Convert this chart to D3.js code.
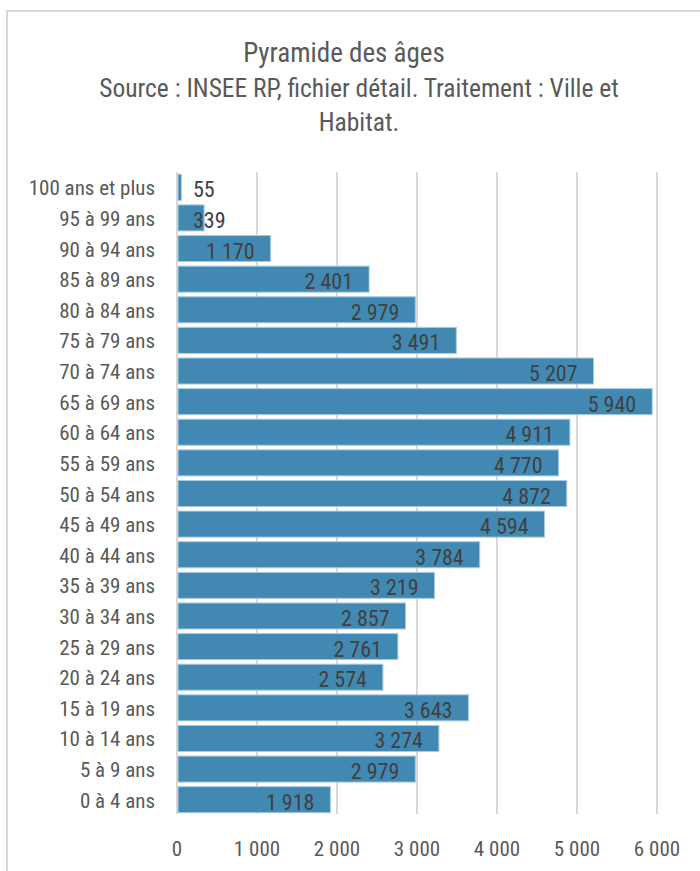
<!DOCTYPE html>
<html>
<head>
<meta charset="utf-8">
<script src="https://cdn.jsdelivr.net/npm/d3@7"></script>
<style>
  body { margin: 0; background: #fff; }
  svg text { font-family: "Liberation Sans Narrow", "Roboto Condensed", "Arial Narrow", "Liberation Sans", sans-serif; }
</style>
</head>
<body>
<svg></svg>
<script>
var categories = ['100 ans et plus', '95 à 99 ans', '90 à 94 ans', '85 à 89 ans', '80 à 84 ans',
  '75 à 79 ans', '70 à 74 ans', '65 à 69 ans', '60 à 64 ans', '55 à 59 ans', '50 à 54 ans',
  '45 à 49 ans', '40 à 44 ans', '35 à 39 ans', '30 à 34 ans', '25 à 29 ans', '20 à 24 ans',
  '15 à 19 ans', '10 à 14 ans', '5 à 9 ans', '0 à 4 ans'];
var values = [55, 339, 1170, 2401, 2979, 3491, 5207, 5940, 4911, 4770, 4872, 4594, 3784,
  3219, 2857, 2761, 2574, 3643, 3274, 2979, 1918];
var ticks = [0, 1000, 2000, 3000, 4000, 5000, 6000];

var width = 700;
var height = 871;
var fmt = d => d3.format(',')(d).replace(/,/g, ' ');

var svg = d3.select('svg')
  .attr('width', width)
  .attr('height', height);

// chart frame
svg.append('rect')
  .attr('x', 7).attr('y', 11)
  .attr('width', 720).attr('height', 900)
  .attr('fill', 'none')
  .attr('stroke', '#d9d9d9')
  .attr('stroke-width', 2);

svg.append('text')
  .attr('x', 344).attr('y', 62)
  .attr('text-anchor', 'middle')
  .attr('fill', '#595959')
  .style('font-size', '27px')
  .text('Pyramide des âges');

svg.append('text')
  .attr('x', 359).attr('y', 97)
  .attr('text-anchor', 'middle')
  .attr('fill', '#595959')
  .style('font-size', '25.5px')
  .text('Source : INSEE RP, fichier détail. Traitement : Ville et');

svg.append('text')
  .attr('x', 359).attr('y', 131)
  .attr('text-anchor', 'middle')
  .attr('fill', '#595959')
  .style('font-size', '25.5px')
  .text('Habitat.');

var x = d3.scaleLinear()
  .domain([0, 6000])
  .range([177, 657]);

var y = d3.scaleBand()
  .domain(categories)
  .range([172, 815])
  .paddingInner(0.15)
  .paddingOuter(0.075);

// gridlines
svg.append('g')
  .selectAll('line')
  .data(ticks)
  .enter()
  .append('line')
  .attr('x1', d => x(d)).attr('x2', d => x(d))
  .attr('y1', 172).attr('y2', 814)
  .attr('stroke', '#d9d9d9')
  .attr('stroke-width', 2);

// x tick labels
svg.append('g')
  .selectAll('text')
  .data(ticks)
  .enter()
  .append('text')
  .attr('x', d => x(d))
  .attr('y', 856)
  .attr('text-anchor', 'middle')
  .attr('fill', '#595959')
  .style('font-size', '21px')
  .text(fmt);

// category labels
svg.append('g')
  .selectAll('text')
  .data(categories)
  .enter()
  .append('text')
  .attr('x', 155)
  .attr('y', d => y(d) + y.bandwidth() / 2 + 8)
  .attr('text-anchor', 'end')
  .attr('fill', '#595959')
  .style('font-size', '21px')
  .text(d => d);

// bars
svg.append('g')
  .selectAll('rect')
  .data(values)
  .enter()
  .append('rect')
  .attr('x', x(0) + 1)
  .attr('y', (d, i) => y(categories[i]))
  .attr('width', d => Math.max(0, x(d) - x(0) - 1))
  .attr('height', y.bandwidth())
  .attr('fill', '#4189b3')
  .attr('stroke', '#a9cbe0')
  .attr('stroke-width', 1);

// data labels
var labels = svg.append('g')
  .selectAll('text')
  .data(values)
  .enter()
  .append('text')
  .attr('y', (d, i) => y(categories[i]) + y.bandwidth() / 2 + 10)
  .attr('fill', '#404040')
  .style('font-size', '22px')
  .text(fmt);

labels.each(function(d) {
  var w = this.getComputedTextLength();
  var left = Math.max(x(d) - 16 - w, x(0) + 16);
  d3.select(this).attr('x', left);
});
</script>
</body>
</html>
